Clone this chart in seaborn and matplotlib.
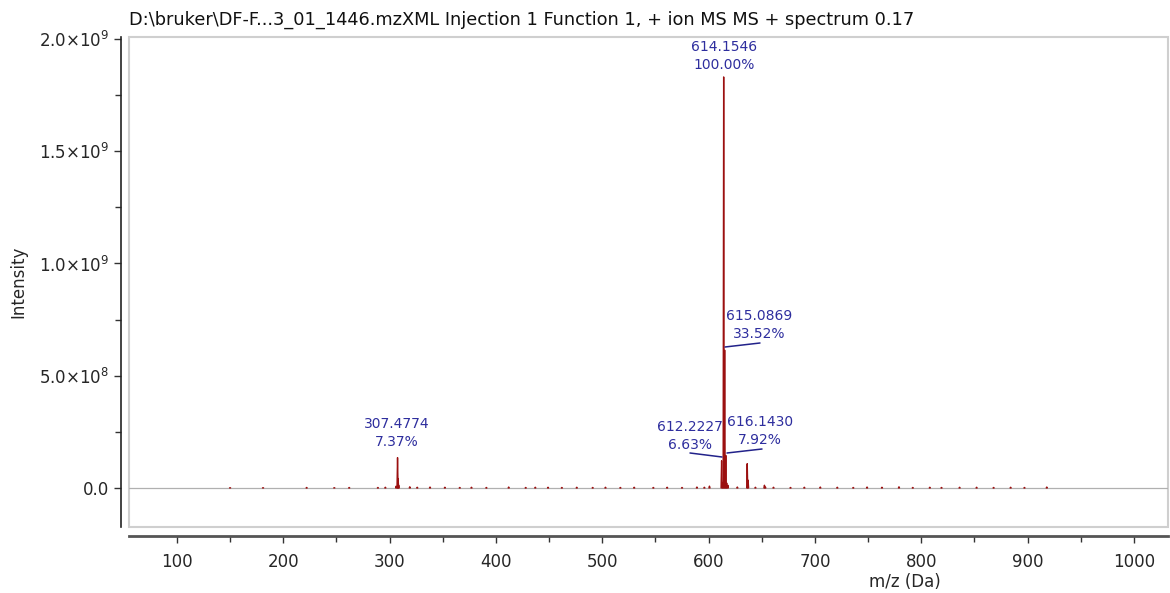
import numpy as np
import pandas as pd
import matplotlib
matplotlib.use("Agg")
import matplotlib.pyplot as plt
import seaborn as sns
from matplotlib.ticker import MultipleLocator, FuncFormatter
from matplotlib.patches import Rectangle

# labelled peaks (m/z, intensity, relative %)
peak_mz = [307.4774, 612.2227, 614.1546, 615.0869, 616.1430]
peak_int = [1.35e8, 1.21e8, 1.831e9, 6.14e8, 1.45e8]
peak_pct = ["7.37%", "6.63%", "100.00%", "33.52%", "7.92%"]

# unlabelled minor peaks
minor_mz = [306.2, 308.0, 308.6, 600.8, 613.2, 617.0, 618.1, 636.3, 637.1, 652.5, 653.3]
minor_int = [8e6, 4.2e7, 1.2e7, 8e6, 2.5e7, 2.2e7, 1.2e7, 1.08e8, 3.5e7, 1.2e7, 5e6]

# baseline noise
noise_mz = [150, 181, 222, 248, 262, 289, 296, 319, 326, 338, 352, 366, 377, 391, 412, 428,
            437, 449, 462, 476, 491, 503, 517, 530, 548, 561, 575, 589, 596, 627, 644, 661,
            677, 690, 705, 721, 736, 749, 763, 779, 792, 808, 819, 836, 852, 868, 884, 897, 918]
noise_int = [1e6, 1e6, 2e6, 1e6, 2e6, 2e6, 3e6, 5e6, 3e6, 4e6, 3e6, 2e6, 3e6, 2e6, 4e6, 2e6,
             3e6, 3e6, 2e6, 3e6, 2e6, 3e6, 2e6, 3e6, 2e6, 3e6, 2e6, 4e6, 3e6, 4e6, 3e6, 3e6,
             2e6, 3e6, 4e6, 3e6, 2e6, 4e6, 3e6, 5e6, 2e6, 3e6, 2e6, 3e6, 3e6, 2e6, 3e6, 2e6, 4e6]

title_txt = r"D:\bruker\DF-F...3_01_1446.mzXML Injection 1 Function 1, + ion MS MS + spectrum 0.17"

all_mz = peak_mz + minor_mz + noise_mz
all_int = peak_int + minor_int + noise_int

# stick spectrum: each peak is its own little 0 -> h -> 0 trace
xs, ys, uid = [], [], []
for i, (m, h) in enumerate(zip(all_mz, all_int)):
    xs += [m - 0.5, m, m + 0.5]
    ys += [0, h, 0]
    uid += [i, i, i]
spec = pd.DataFrame({"mz": xs, "intensity": ys, "peak": uid})

sns.set_style("ticks")
plt.rcParams["font.family"] = ["DejaVu Sans"]
plt.rcParams["mathtext.default"] = "regular"

fig = plt.figure(figsize=(11.7, 5.93), dpi=100)
ax = fig.add_axes([0.1103, 0.1113, 0.8880, 0.8263])

ax.axhline(0, color="#b0b0b0", lw=0.9, zorder=1)
sns.lineplot(data=spec, x="mz", y="intensity", units="peak", sort=False, estimator=None,
             color="#9b1010", lw=1.0, ax=ax, zorder=3)

ax.set_xlim(55, 1032)
ax.set_ylim(-1.74e8, 2.009e9)

# box + detached axes
for s in ["top", "right"]:
    ax.spines[s].set_visible(False)
ax.add_patch(Rectangle((0, 0), 1, 1, transform=ax.transAxes, fill=False,
                       edgecolor="#cfcfcf", lw=1.5, zorder=0, clip_on=False))
ax.spines["left"].set_position(("outward", 6))
ax.spines["bottom"].set_position(("outward", 6.5))
ax.spines["left"].set_color("#222222")
ax.spines["bottom"].set_color("#555555")
ax.spines["left"].set_linewidth(1.2)
ax.spines["bottom"].set_linewidth(2.0)

ax.xaxis.set_major_locator(MultipleLocator(100))
ax.xaxis.set_minor_locator(MultipleLocator(50))
ax.yaxis.set_major_locator(MultipleLocator(5e8))
ax.yaxis.set_minor_locator(MultipleLocator(2.5e8))


def yfmt(v, pos):
    if abs(v) < 1:
        return "0.0"
    e = int(np.floor(np.log10(abs(v))))
    return r"%.1f×10$^{%d}$" % (v / 10 ** e, e)


ax.yaxis.set_major_formatter(FuncFormatter(yfmt))
ax.tick_params(axis="both", which="major", length=5, width=1, labelsize=12, color="#333333")
ax.tick_params(axis="both", which="minor", length=4, width=1, color="#333333")
ax.tick_params(axis="x", pad=7)

ax.set_xlabel("m/z (Da)", fontsize=12, va="center")
ax.xaxis.set_label_coords(0.747, -0.113)
ax.set_ylabel("Intensity", fontsize=12, va="center")
ax.yaxis.set_label_coords(-0.107, 0.5)

fig.text(129 / 1170, 1 - 20 / 593, title_txt, fontsize=12.8, va="center", ha="left", color="#111111")

# peak labels
lab_col = "#2e2e9e"
lab_pos = {  # text centre (pixels) for each labelled peak
    307.4774: (397, 433),
    612.2227: (690, 436),
    614.1546: (724, 56),
    615.0869: (759, 325),
    616.1430: (760, 431),
}
leaders = {
    612.2227: ((690, 453), (722, 457)),
    615.0869: ((725, 347), (760, 343)),
    616.1430: ((727, 453), (762, 449)),
}
H = 593
for m, pct in zip(peak_mz, peak_pct):
    px, py = lab_pos[m]
    fig.text(px / 1170, 1 - py / H, "%.4f\n%s" % (m, pct), ha="center", va="center",
             fontsize=10, color=lab_col, linespacing=1.35, zorder=5)
    if m in leaders:
        (x0, y0), (x1, y1) = leaders[m]
        fig.add_artist(plt.Line2D([x0 / 1170, x1 / 1170], [1 - y0 / H, 1 - y1 / H],
                                  color="#22228a", lw=1.1))

fig.savefig("out.png", dpi=100)
